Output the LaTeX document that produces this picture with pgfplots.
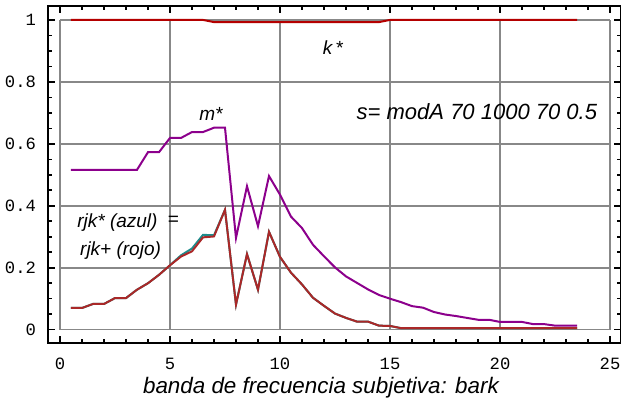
\documentclass[border=0pt]{standalone}
\usepackage{fontspec}
\setmainfont{Liberation Sans}
\setmonofont{Liberation Mono}
\usepackage{pgfplots}
\pgfplotsset{compat=1.18}

\definecolor{morado}{RGB}{140,0,140}
\definecolor{rojo}{RGB}{170,40,40}
\definecolor{rojok}{RGB}{180,0,0}
\definecolor{azul}{RGB}{30,140,140}
\definecolor{rejilla}{RGB}{136,136,136}

\begin{document}
\begin{tikzpicture}[x=0.5pt,y=0.5pt]
\path[use as bounding box] (0,0) rectangle (621,410);
\begin{axis}[
    at={(24pt,33.5pt)}, anchor=south west,
    scale only axis,
    width=286.5pt, height=168.5pt,
    xmin=-0.545, xmax=25.5,
    ymin=-0.043, ymax=1.045,
    xtick={0,5,...,25},
    ytick={0,0.2,0.4,0.6,0.8,1},
    minor x tick num=4,
    minor y tick num=3,
    tick align=inside,
    major tick length=3.5pt,
    minor tick length=2pt,
    axis line style={line width=1pt},
    tick style={black, line width=0.8pt},
    /pgf/number format/assume math mode=true,
    tick label style={font=\ttfamily\fontsize{8.6}{9}\selectfont},
    xticklabel style={yshift=-4pt},
    yticklabel style={xshift=-2.5pt},
    clip=false,
]
% rejilla acotada a la caja [0,25]x[0,1]
\pgfplotsinvokeforeach{0,5,10,15,20,25}{
  \draw[rejilla, line width=0.8pt] (axis cs:#1,0) -- (axis cs:#1,1);
}
\pgfplotsinvokeforeach{0,0.2,0.4,0.6,0.8,1}{
  \draw[rejilla, line width=0.8pt] (axis cs:0,#1) -- (axis cs:25,#1);
}

% k*
\addplot[rojok, line width=1pt] coordinates {
  (0.5,1) (1,1) (1.5,1) (2,1) (2.5,1) (3,1) (3.5,1) (4,1) (4.5,1) (5,1)
  (5.5,1) (6,1) (6.5,1) (7,0.993) (7.5,0.993) (8,0.993) (8.5,0.993) (9,0.993)
  (9.5,0.993) (10,0.993) (10.5,0.993) (11,0.993) (11.5,0.993) (12,0.993)
  (12.5,0.993) (13,0.993) (13.5,0.993) (14,0.993) (14.5,0.993) (15,1)
  (15.5,1) (16,1) (16.5,1) (17,1) (17.5,1) (18,1) (18.5,1) (19,1) (19.5,1)
  (20,1) (20.5,1) (21,1) (21.5,1) (22,1) (22.5,1) (23,1) (23.5,1)
};

% m*
\addplot[morado, line width=1pt] coordinates {
  (0.5,0.516) (1,0.516) (1.5,0.516) (2,0.516) (2.5,0.516) (3,0.516) (3.5,0.516)
  (4,0.573) (4.5,0.573) (5,0.619) (5.5,0.619) (6,0.638) (6.5,0.638)
  (7,0.652) (7.5,0.652) (8,0.296) (8.5,0.463) (9,0.334) (9.5,0.496)
  (10,0.436) (10.5,0.365) (11,0.328) (11.5,0.274) (12,0.237) (12.5,0.201)
  (13,0.172) (13.5,0.151) (14,0.130) (14.5,0.112) (15,0.100) (15.5,0.089)
  (16,0.076) (16.5,0.071) (17,0.057) (17.5,0.049) (18,0.044) (18.5,0.038)
  (19,0.032) (19.5,0.032) (20,0.025) (20.5,0.025) (21,0.025) (21.5,0.018)
  (22,0.018) (22.5,0.013) (23,0.013) (23.5,0.013)
};

% rjk* (azul)
\addplot[azul, line width=1pt] coordinates {
  (0.5,0.070) (1,0.070) (1.5,0.083) (2,0.083) (2.5,0.102) (3,0.102)
  (3.5,0.129) (4,0.150) (4.5,0.177) (5,0.208) (5.5,0.240) (6,0.262)
  (6.5,0.306) (7,0.305) (7.5,0.387) (8,0.081) (8.5,0.244) (9,0.129)
  (9.5,0.316) (10,0.235) (10.5,0.184) (11,0.146) (11.5,0.103) (12,0.077)
  (12.5,0.052) (13,0.038) (13.5,0.026) (14,0.026) (14.5,0.013) (15,0.012)
  (15.5,0.005) (16,0.005) (16.5,0.005) (17,0.005) (17.5,0.005) (18,0.005)
  (18.5,0.005) (19,0.005) (19.5,0.005) (20,0.005) (20.5,0.005) (21,0.005)
  (21.5,0.005) (22,0.005) (22.5,0.005) (23,0.005) (23.5,0.005)
};

% rjk+ (rojo)
\addplot[rojo, line width=1pt] coordinates {
  (0.5,0.070) (1,0.070) (1.5,0.083) (2,0.083) (2.5,0.102) (3,0.102)
  (3.5,0.129) (4,0.150) (4.5,0.177) (5,0.208) (5.5,0.236) (6,0.253)
  (6.5,0.298) (7,0.301) (7.5,0.387) (8,0.081) (8.5,0.244) (9,0.129)
  (9.5,0.316) (10,0.235) (10.5,0.184) (11,0.146) (11.5,0.103) (12,0.077)
  (12.5,0.052) (13,0.038) (13.5,0.026) (14,0.026) (14.5,0.013) (15,0.012)
  (15.5,0.005) (16,0.005) (16.5,0.005) (17,0.005) (17.5,0.005) (18,0.005)
  (18.5,0.005) (19,0.005) (19.5,0.005) (20,0.005) (20.5,0.005) (21,0.005)
  (21.5,0.005) (22,0.005) (22.5,0.005) (23,0.005) (23.5,0.005)
};

\node[font=\itshape\fontsize{9.5}{10}\selectfont] at (axis cs:12.4,0.91) {k\,*};
\node[font=\itshape\fontsize{9.5}{10}\selectfont] at (axis cs:6.86,0.697) {m*};
\node[font=\itshape\fontsize{11}{12}\selectfont] at (axis cs:18.95,0.703) {s= modA 70 1000 70 0.5};
\node[font=\itshape\fontsize{9.5}{10}\selectfont, anchor=west, inner sep=0pt] at (axis cs:0.77,0.345) {rjk* (azul)};
\node[font=\itshape\fontsize{9.5}{10}\selectfont] at (axis cs:5.15,0.35) {=};
\node[font=\itshape\fontsize{9.5}{10}\selectfont, anchor=west, inner sep=0pt] at (axis cs:0.9,0.255) {rjk+ (rojo)};
\node[font=\itshape\fontsize{11.2}{12}\selectfont] at (axis cs:11.86,-0.188) {banda de frecuencia subjetiva: bark};
\end{axis}
\end{tikzpicture}
\end{document}
